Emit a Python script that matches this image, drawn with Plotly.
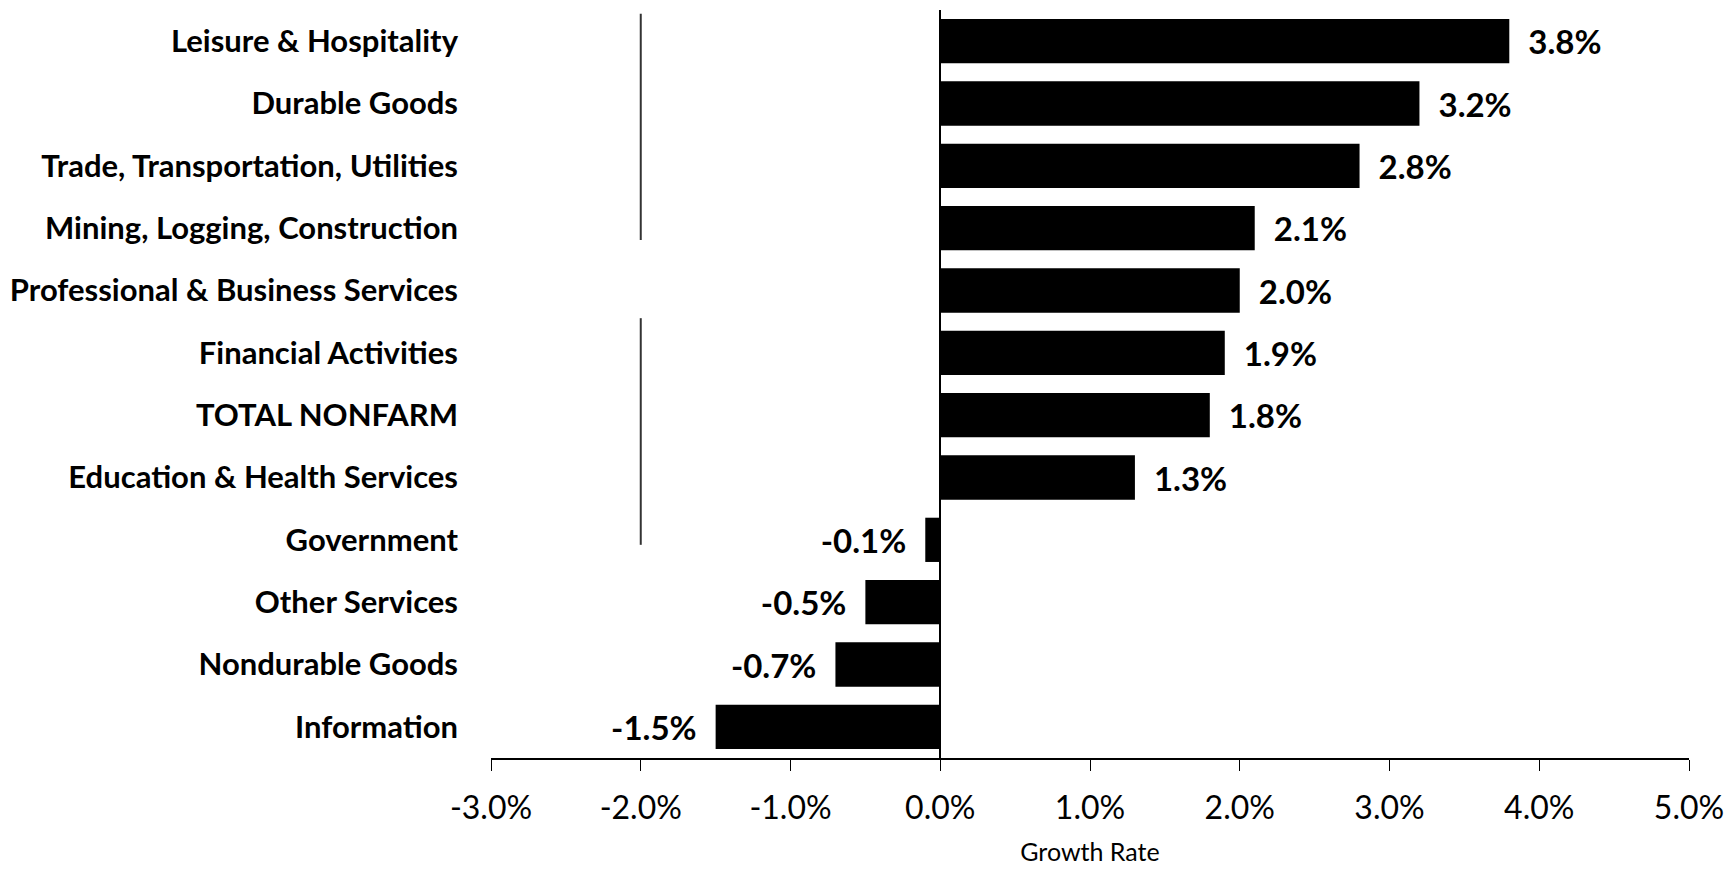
import plotly.graph_objects as go

# Employment growth by sector, ordered top to bottom
categories = [
    "Leisure & Hospitality",
    "Durable Goods",
    "Trade, Transportation, Utilities",
    "Mining, Logging, Construction",
    "Professional & Business Services",
    "Financial Activities",
    "TOTAL NONFARM",
    "Education & Health Services",
    "Government",
    "Other Services",
    "Nondurable Goods",
    "Information",
]
growth = [3.8, 3.2, 2.8, 2.1, 2.0, 1.9, 1.8, 1.3, -0.1, -0.5, -0.7, -1.5]

x_ticks = [-3, -2, -1, 0, 1, 2, 3, 4, 5]
x_tick_labels = ["-3.0%", "-2.0%", "-1.0%", "0.0%", "1.0%", "2.0%", "3.0%", "4.0%", "5.0%"]

FONT = "Lato, Liberation Sans, sans-serif"
NB = "\u00a0"
labels = [
    (NB * 2 + f"{v:.1f}%") if v >= 0 else (f"{v:.1f}%" + NB * 2)
    for v in growth
]

fig = go.Figure(
    go.Bar(
        y=categories,
        x=growth,
        orientation="h",
        marker=dict(color="black", line=dict(width=0)),
        text=labels,
        textposition="outside",
        constraintext="none",
        cliponaxis=False,
        textfont=dict(family=FONT, size=33, color="black", weight="bold"),
        hoverinfo="skip",
    )
)

# faint vertical rule at -2.0%
for y0, y1 in [(0.6925, 0.995), (0.285, 0.588)]:
    fig.add_shape(
        type="line", xref="x", yref="paper",
        x0=-2, x1=-2, y0=y0, y1=y1,
        line=dict(color="#333333", width=2),
    )

fig.update_layout(
    width=1735,
    height=872,
    margin=dict(l=491, r=46, t=10, b=109),
    plot_bgcolor="white",
    paper_bgcolor="white",
    bargap=0.29,
    showlegend=False,
    xaxis=dict(
        range=[-3, 5],
        tickmode="array",
        tickvals=x_ticks,
        ticktext=x_tick_labels,
        showgrid=False,
        zeroline=True,
        zerolinecolor="black",
        zerolinewidth=1.5,
        showline=True,
        linecolor="black",
        linewidth=1.5,
        ticks="outside",
        ticklen=11,
        tickwidth=1,
        tickcolor="black",
        ticklabelstandoff=10,
        tickfont=dict(family=FONT, size=32, color="black"),
        title=dict(
            text="Growth Rate",
            font=dict(family=FONT, size=25, color="black"),
            standoff=18,
        ),
    ),
    yaxis=dict(
        categoryorder="array",
        categoryarray=categories,
        autorange="reversed",
        showgrid=False,
        zeroline=False,
        showline=False,
        ticks="",
        ticklabelstandoff=32,
        tickfont=dict(family=FONT, size=31, color="black", weight="bold"),
    ),
)

fig.write_html("out.html")
